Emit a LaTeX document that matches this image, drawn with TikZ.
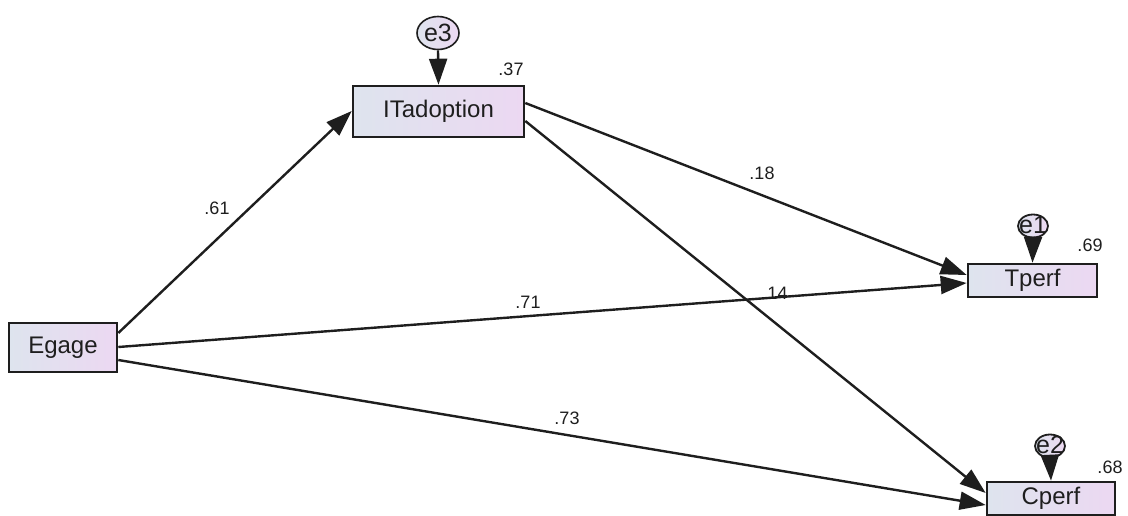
\documentclass[tikz,border=0pt]{standalone}
\usepackage{fontspec}
\setmainfont{Liberation Sans}
\usetikzlibrary{arrows.meta,shapes.geometric,calc}
\definecolor{boxleft}{RGB}{222,228,238}
\definecolor{boxright}{RGB}{236,216,242}
\definecolor{ink}{RGB}{30,30,30}
\begin{document}
\begin{tikzpicture}[x=1pt,y=-1pt,
  var/.style={rectangle, draw=ink, line width=2.6pt, left color=boxleft, right color=boxright,
    inner sep=0pt, text=ink, font=\fontsize{24}{24}\selectfont},
  errbig/.style={ellipse, draw=ink, line width=1.6pt, left color=boxleft, right color=boxright,
    inner sep=0pt, minimum width=42pt, minimum height=33pt},
  errsmall/.style={ellipse, draw=ink, line width=1.8pt, left color=boxleft, right color=boxright,
    inner sep=0pt, minimum width=30pt, minimum height=23pt},
  errtext/.style={text=ink, font=\fontsize{25}{25}\selectfont},
  regpath/.style={draw=ink, line width=2.4pt, -{Triangle[length=26pt,width=18pt]}},
  coef/.style={text=ink, font=\fontsize{18}{18}\selectfont}]
\useasboundingbox (0,0) rectangle (1128,515);

% observed variables
\node[var, minimum width=171pt, minimum height=51pt] (ita) at (438.5,111.5) {ITadoption};
\node[var, minimum width=108pt, minimum height=49pt] (eg) at (63,347.5) {Egage};
\node[var, minimum width=129pt, minimum height=33pt] (tp) at (1032.5,280.5) {Tperf};
\node[var, minimum width=128pt, minimum height=33pt] (cp) at (1051,498.5) {Cperf};

% error terms
\node[errbig] (e3) at (438,33) {};
\node[errtext] (e3t) at (438,33) {e3};
\node[errsmall] (e1) at (1033,226) {};
\node[errtext] (e1t) at (1033,225) {e1};
\node[errsmall] (e2) at (1050,446) {};
\node[errtext] (e2t) at (1050,445) {e2};

% regression paths
\draw[regpath] ($(eg.east)+(0,-14.5)$) -- ($(ita.west)+(0,-0.5)$);
\draw[regpath] ($(eg.east)+(0,-0.5)$) -- ($(tp.west)+(0,2.5)$);
\draw[regpath] ($(eg.east)+(0,12.5)$) -- ($(cp.west)+(0,6.5)$);
\draw[regpath] ($(ita.east)+(0,-8.5)$) -- ($(tp.west)+(0,-5.5)$);
\draw[regpath] ($(ita.east)+(0,9.5)$) -- ($(cp.west)+(0,-5.5)$);
\draw[regpath] (e3.south) -- (ita.north);
\draw[regpath] (e1.south) -- (tp.north);
\draw[regpath] (e2.south) -- (cp.north);

% estimates
\node[coef] (c61) at (217,208) {.61};
\node[coef] (c71) at (528,302) {.71};
\node[coef] (c73) at (567,418) {.73};
\node[coef] (c18) at (762,173) {.18};
\node[coef] (c14) at (775,293) {.14};
\node[coef] (r37) at (511,69) {.37};
\node[coef] (r69) at (1090,245) {.69};
\node[coef] (r68) at (1110,467) {.68};
\end{tikzpicture}
\end{document}
